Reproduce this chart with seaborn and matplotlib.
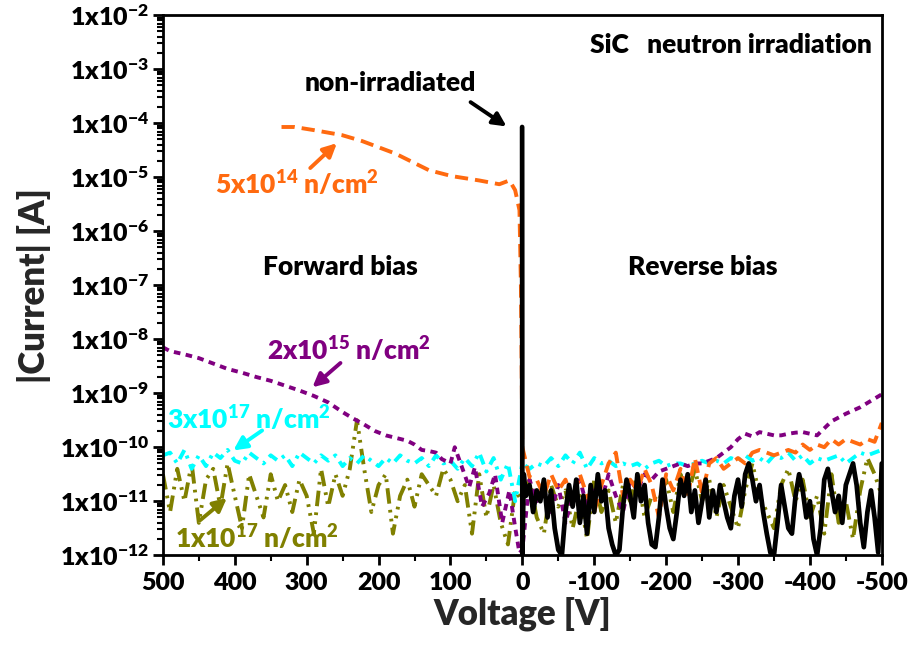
import numpy as np
import pandas as pd
import matplotlib
matplotlib.use("Agg")
import matplotlib.pyplot as plt
import seaborn as sns
from matplotlib.ticker import FixedLocator, LogLocator, FuncFormatter, NullFormatter

sns.set_theme(style="ticks")
plt.rcParams["font.family"] = ["Lato", "DejaVu Sans"]
plt.rcParams["font.weight"] = "bold"
plt.rcParams["mathtext.default"] = "regular"

# ---------------------------------------------------------------------------
# I-V sweeps of SiC diodes, |I| as log10(A); voltage axis runs +500 V (forward)
# to -500 V (reverse).
# ---------------------------------------------------------------------------
V_FWD_10 = list(range(500, -1, -10))          # forward sweep grid, 10 V step
V_REV_10 = list(range(0, -501, -10))          # reverse sweep grid, 10 V step
V_REV_5 = list(range(-5, -501, -5))           # reverse sweep grid, 5 V step

# non-irradiated: forward jumps to compliance right at 0 V
V_NONIRR_FWD = [0.3, 0.0, -2.0]
LOG_NONIRR_FWD = [-4.07, -12.0, -10.5]
LOG_NONIRR_REV = [
    -10.9, -10.7, -11.2, -10.8, -11.0, -10.6, -11.3, -10.8, -11.5, -11.9,
    -12.0, -11.2, -10.7, -11.1, -10.6, -11.4, -10.9, -11.6, -10.7, -11.2,
    -10.5, -11.0, -10.8, -11.5, -11.8, -12.0, -11.9, -11.1, -10.6, -10.9,
    -11.3, -10.5, -11.0, -10.7, -11.4, -11.8, -11.85, -11.3, -10.6, -11.1,
    -11.5, -11.7, -11.2, -10.6, -10.9, -10.5, -11.2, -10.8, -11.4, -11.0,
    -10.6, -11.3, -10.8, -11.2, -10.7, -11.0, -11.3, -11.5, -10.9, -10.6,
    -11.1, -10.5, -10.3, -10.6, -11.0, -10.7, -11.2, -11.6, -11.95, -12.0,
    -11.4, -10.7, -11.1, -11.5, -11.6, -10.9, -10.5, -10.8, -11.3, -11.0,
    -11.7, -12.0, -11.5, -10.6, -10.4, -10.8, -11.2, -10.9, -11.4, -10.7,
    -10.5, -10.3, -10.7, -11.4, -11.85, -11.2, -10.8, -11.3, -11.95, -10.3,
]

# 5x10^14 n/cm^2
V_5E14_FWD = [335, 317, 289, 251, 223, 177, 130, 98, 60, 32, 18, 10, 4, 2, 1]
LOG_5E14_FWD = [-4.07, -4.07, -4.13, -4.22, -4.33, -4.56, -4.87, -4.98,
                -5.06, -5.13, -5.06, -5.24, -5.61, -7.0, -8.5]
LOG_5E14_REV = [
    -10.0, -10.55, -10.6, -10.9, -10.5, -10.8, -10.6, -11.0, -10.5, -10.9,
    -11.2, -10.7, -10.3, -10.1, -10.9, -10.6, -10.8, -10.4, -10.7, -11.3,
    -10.5, -10.8, -10.4, -10.9, -10.2, -10.85, -10.3, -10.2, -10.4, -10.3,
    -10.2, -10.3, -10.1, -10.05, -10.1, -10.15, -10.1, -10.05, -10.1, -9.95,
    -10.05, -9.95, -10.0, -9.85, -9.95, -9.85, -9.9, -9.95, -9.85, -9.9,
    -9.55,
]

# 2x10^15 n/cm^2
V_2E15_FWD = [500, 490, 470, 450, 430, 410, 390, 370, 350, 330, 310, 290,
              270, 250, 235, 220, 205, 190, 175, 160, 150, 140, 130, 120,
              112, 100, 94, 84, 74, 66, 56, 46, 38, 28, 18, 10, 4]
LOG_2E15_FWD = [-8.15, -8.22, -8.28, -8.35, -8.45, -8.55, -8.62, -8.7,
                -8.77, -8.86, -8.95, -9.05, -9.17, -9.35, -9.47, -9.58,
                -9.7, -9.78, -9.83, -9.88, -9.95, -10.05, -10.07, -10.1,
                -10.22, -10.3, -10.0, -10.37, -10.74, -10.37, -11.1, -10.85,
                -10.5, -11.4, -10.8, -11.48, -11.96]
LOG_2E15_REV = [
    -11.9, -10.6, -11.0, -10.8, -11.2, -10.7, -11.4, -10.9, -10.6, -11.1,
    -10.8, -11.0, -10.5, -10.9, -11.2, -10.6, -10.8, -10.5, -10.6, -10.45,
    -10.4, -10.35, -10.3, -10.35, -10.3, -10.3, -10.25, -10.2, -10.1, -10.0,
    -9.85, -9.75, -9.8, -9.72, -9.75, -9.78, -9.78, -9.75, -9.73, -9.72,
    -9.75, -9.78, -9.65, -9.52, -9.45, -9.38, -9.32, -9.26, -9.18, -9.1,
    -9.02,
]

# 3x10^17 n/cm^2
LOG_3E17_FWD = [
    -10.15, -10.1, -10.3, -10.05, -10.4, -10.15, -10.35, -10.1, -10.2, -10.05,
    -10.25, -10.3, -10.1, -10.2, -10.3, -10.15, -10.25, -10.15, -10.35, -10.1,
    -10.2, -10.3, -10.15, -10.25, -10.15, -10.35, -10.2, -10.3, -10.15, -10.25,
    -10.35, -10.2, -10.3, -10.15, -10.25, -10.3, -10.2, -10.35, -10.15, -10.3,
    -10.25, -10.4, -10.2, -10.35, -10.1, -10.45, -10.2, -10.6, -10.3, -11.0,
    -12.0,
]
LOG_3E17_REV = [
    -10.3, -10.4, -10.3, -10.35, -10.2, -10.35, -10.15, -10.3, -10.1, -10.4,
    -10.2, -10.3, -10.25, -10.35, -10.3, -10.35, -10.3, -10.4, -10.3, -10.25,
    -10.35, -10.3, -10.3, -10.35, -10.3, -10.25, -10.3, -10.25, -10.3, -10.2,
    -10.25, -10.15, -10.25, -10.2, -10.3, -10.15, -10.2, -10.1, -10.25, -10.15,
    -10.3, -10.2, -10.25, -10.2, -10.15, -10.3, -10.2, -10.1, -10.15, -10.1,
    -10.05,
]

# 1x10^17 n/cm^2
LOG_1E17_FWD = [
    -10.5, -11.2, -10.4, -11.0, -10.3, -11.4, -10.6, -10.4, -11.1, -10.3,
    -10.9, -11.5, -10.5, -10.9, -11.3, -10.5, -11.0, -10.7, -11.2, -10.6,
    -10.9, -11.6, -10.4, -11.1, -10.5, -10.9, -10.4, -9.5, -10.4, -11.2,
    -10.7, -10.5, -11.6, -10.9, -10.6, -11.1, -10.5, -10.7, -10.9, -10.4,
    -10.6, -11.0, -10.7, -11.6, -10.5, -11.3, -10.7, -11.4, -11.8, -10.8,
    -11.0,
]
LOG_1E17_REV = [
    -11.0, -10.6, -11.3, -11.6, -10.7, -11.1, -10.8, -11.5, -10.9, -11.7,
    -10.6, -11.2, -10.8, -11.4, -10.7, -11.0, -10.5, -11.3, -10.9, -11.0,
    -10.6, -11.2, -10.5, -10.9, -10.4, -11.0, -10.6, -11.3, -10.7, -11.1,
    -11.5, -10.8, -10.3, -10.9, -11.2, -11.5, -10.7, -10.4, -11.0, -10.6,
    -11.3, -10.9, -11.6, -10.5, -11.4, -11.0, -11.7, -10.8, -10.2, -10.5,
    -10.9,
]

Y_DECADES = list(range(-12, -1))
X_TICKS = [500, 400, 300, 200, 100, 0, -100, -200, -300, -400, -500]

ORANGE = "#FF6A10"
PURPLE = "#800080"
CYAN = "#00FFFF"
OLIVE = "#808000"


def sweep(v_fwd, log_fwd, v_rev, log_rev, name):
    v = list(v_fwd) + list(v_rev)
    i = 10.0 ** np.array(list(log_fwd) + list(log_rev))
    return pd.DataFrame({"voltage": v, "current": i, "sample": name})


curves = [
    (sweep(V_FWD_10[:-1], LOG_1E17_FWD[:-1], V_REV_10, LOG_1E17_REV, "1e17"),
     OLIVE, 2.8, (0, (4.0, 1.6, 0.7, 1.6, 0.7, 1.6))),
    (sweep(V_FWD_10[:-1], LOG_3E17_FWD[:-1], V_REV_10, LOG_3E17_REV, "3e17"),
     CYAN, 2.8, (0, (2.6, 1.6, 0.8, 1.6))),
    (sweep(V_2E15_FWD, LOG_2E15_FWD, V_REV_10, LOG_2E15_REV, "2e15"),
     PURPLE, 2.8, (0, (1.7, 1.4))),
    (sweep(V_5E14_FWD, LOG_5E14_FWD, V_REV_10, LOG_5E14_REV, "5e14"),
     ORANGE, 2.8, (0, (3.4, 1.8))),
    (sweep(V_NONIRR_FWD, LOG_NONIRR_FWD, V_REV_5, LOG_NONIRR_REV, "non"),
     "black", 3.4, "-"),
]

fig = plt.figure(figsize=(9.10, 6.61), dpi=100)
ax = fig.add_axes([0.179, 0.160, 0.790, 0.817])
ax.set_yscale("log")

for df, color, lw, ls in curves:
    sns.lineplot(data=df, x="voltage", y="current", ax=ax, color=color,
                 linewidth=lw, linestyle=ls, estimator=None, sort=False,
                 legend=False)

ax.set_xlim(500, -500)
ax.set_ylim(1e-12, 1e-2)

ax.xaxis.set_major_locator(FixedLocator(X_TICKS))
ax.xaxis.set_minor_locator(FixedLocator([450, 350, 250, 150, 50, -50, -150,
                                         -250, -350, -450]))
ax.xaxis.set_major_formatter(FuncFormatter(lambda v, p: f"{int(round(v))}"))
ax.yaxis.set_major_locator(FixedLocator([10.0 ** e for e in Y_DECADES]))
ax.yaxis.set_minor_locator(LogLocator(base=10, subs=np.arange(2, 10), numticks=50))
ax.yaxis.set_minor_formatter(NullFormatter())
ax.yaxis.set_major_formatter(
    FuncFormatter(lambda v, p: f"1x10$^{{{int(round(np.log10(v)))}}}$"))

ax.tick_params(axis="x", which="major", direction="out", length=7,
               width=2, colors="black", labelsize=18, pad=5)
ax.tick_params(axis="y", which="major", direction="out", length=7,
               width=2, colors="black", labelsize=18, pad=3)
ax.tick_params(axis="both", which="minor", direction="out", length=4,
               width=1.5, colors="black")
for lab in ax.get_xticklabels() + ax.get_yticklabels():
    lab.set_fontweight("heavy")
for sp in ax.spines.values():
    sp.set_visible(True)
    sp.set_linewidth(2)
    sp.set_color("black")

ax.set_xlabel("Voltage [V]", fontsize=25, fontweight="heavy", labelpad=2)
ax.set_ylabel("|Current| [A]", fontsize=25, fontweight="heavy", labelpad=6)


def lg(e):
    return 10.0 ** e


TXT = dict(fontsize=19, fontweight="heavy")
ax.text(-486, lg(-2.56), "SiC   neutron irradiation", ha="right",
        va="center", color="black", **TXT)
ax.text(253, lg(-6.67), "Forward bias", ha="center", va="center",
        color="black", **TXT)
ax.text(-251, lg(-6.67), "Reverse bias", ha="center", va="center",
        color="black", **TXT)

labels = [
    ("non-irradiated", "black", (184, -3.26), (72, -3.61), (22, -4.06)),
    ("5x10$^{14}$ n/cm$^{2}$", ORANGE, (313, -5.11), (295, -4.83), (258, -4.37)),
    ("2x10$^{15}$ n/cm$^{2}$", PURPLE, (241, -8.2), (253, -8.44), (292, -8.89)),
    ("3x10$^{17}$ n/cm$^{2}$", CYAN, (380, -9.46), (362, -9.69), (402, -10.06)),
    ("1x10$^{17}$ n/cm$^{2}$", OLIVE, (369, -11.67), (448, -11.35), (411, -10.94)),
]
for text, color, (tx, ty), (ax0, ay0), (ax1, ay1) in labels:
    ax.text(tx, lg(ty), text, ha="center", va="center", color=color, **TXT)
    ax.annotate("", xy=(ax1, lg(ay1)), xytext=(ax0, lg(ay0)),
                arrowprops=dict(arrowstyle="-|>", color=color, lw=2.8,
                                mutation_scale=20, shrinkA=0, shrinkB=0))

fig.savefig("out.png", dpi=100)
